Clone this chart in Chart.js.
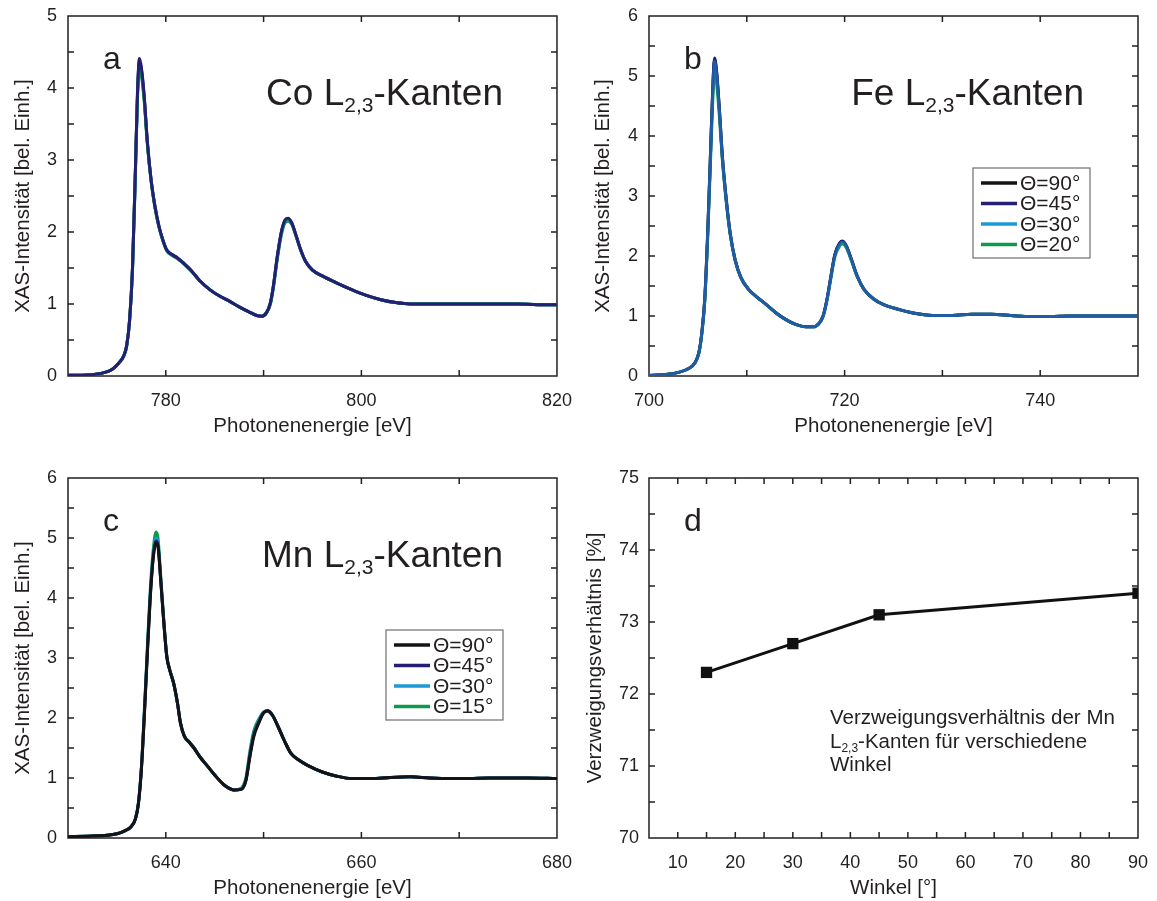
<!DOCTYPE html>
<html>
<head>
<meta charset="utf-8">
<script src="https://cdn.jsdelivr.net/npm/chart.js@4.4.1/dist/chart.umd.min.js"></script>
<style>
  html, body { margin: 0; padding: 0; background: #fff; width: 1157px; height: 901px; overflow: hidden; }
  .panel { position: absolute; width: 578px; height: 450px; }
</style>
</head>
<body>
<div class="panel" style="left:0;top:0"><canvas id="chart-co" width="578" height="450"></canvas></div>
<div class="panel" style="left:581px;top:0"><canvas id="chart-fe" width="578" height="450"></canvas></div>
<div class="panel" style="left:0;top:462px"><canvas id="chart-mn" width="578" height="450"></canvas></div>
<div class="panel" style="left:581px;top:462px"><canvas id="chart-ratio" width="578" height="450"></canvas></div>
<script>
// --- Co L2,3 edges ---
const coEnergy = [770, 772, 773.5, 774.5, 775.2, 775.7, 776, 776.3, 776.6, 776.9, 777.1, 777.3, 777.5, 777.8, 778.1, 778.5, 778.9, 779.3, 779.7, 780.1, 780.6, 781.2, 781.8, 782.5, 783.5, 784.5, 785.5, 786.5, 787.5, 788.5, 789.3, 789.8, 790.3, 790.7, 791, 791.4, 791.8, 792.2, 792.5, 792.9, 793.3, 793.8, 794.3, 795, 796, 797.5, 799, 800.5, 802, 803.5, 805, 807, 810, 813, 816, 818, 820];
const coT90 = [0.01, 0.015, 0.04, 0.09, 0.18, 0.28, 0.42, 0.78, 1.52, 2.9, 3.9, 4.37, 4.26, 3.86, 3.27, 2.72, 2.35, 2.08, 1.89, 1.75, 1.69, 1.64, 1.57, 1.48, 1.32, 1.2, 1.11, 1.04, 0.96, 0.89, 0.84, 0.83, 0.88, 1.02, 1.25, 1.66, 1.99, 2.16, 2.18, 2.12, 1.96, 1.75, 1.59, 1.47, 1.39, 1.29, 1.2, 1.12, 1.06, 1.02, 1.0, 1.0, 1.0, 1.0, 1.0, 0.99, 0.99];
const coT45 = [0.01, 0.015, 0.04, 0.09, 0.18, 0.28, 0.42, 0.78, 1.52, 2.91, 3.92, 4.41, 4.29, 3.88, 3.28, 2.72, 2.35, 2.08, 1.89, 1.75, 1.69, 1.64, 1.57, 1.48, 1.32, 1.2, 1.11, 1.04, 0.96, 0.89, 0.84, 0.83, 0.88, 1.02, 1.25, 1.66, 1.99, 2.17, 2.19, 2.12, 1.96, 1.75, 1.59, 1.47, 1.39, 1.29, 1.2, 1.12, 1.06, 1.02, 1.0, 1.0, 1.0, 1.0, 1.0, 0.99, 0.99];
const coT30 = [0.01, 0.015, 0.04, 0.09, 0.18, 0.28, 0.42, 0.78, 1.5, 2.88, 3.87, 4.33, 4.22, 3.84, 3.26, 2.71, 2.34, 2.07, 1.88, 1.74, 1.68, 1.63, 1.57, 1.48, 1.32, 1.2, 1.11, 1.04, 0.96, 0.89, 0.84, 0.83, 0.88, 1.01, 1.24, 1.64, 1.97, 2.15, 2.17, 2.11, 1.95, 1.75, 1.59, 1.47, 1.39, 1.29, 1.2, 1.12, 1.06, 1.02, 1.0, 1.0, 1.0, 1.0, 1.0, 0.99, 0.99];
const coT20 = [0.01, 0.015, 0.04, 0.09, 0.18, 0.28, 0.42, 0.77, 1.48, 2.85, 3.84, 4.28, 4.18, 3.8, 3.24, 2.7, 2.33, 2.07, 1.88, 1.74, 1.68, 1.63, 1.56, 1.47, 1.32, 1.2, 1.11, 1.04, 0.96, 0.89, 0.84, 0.83, 0.88, 1.0, 1.22, 1.62, 1.95, 2.13, 2.15, 2.1, 1.95, 1.74, 1.59, 1.47, 1.39, 1.29, 1.2, 1.12, 1.06, 1.02, 1.0, 1.0, 1.0, 1.0, 1.0, 0.99, 0.99];

// --- Fe L2,3 edges ---
const feEnergy = [700, 701.5, 703, 704, 704.7, 705.1, 705.4, 705.7, 706, 706.3, 706.5, 706.7, 706.9, 707.2, 707.5, 707.9, 708.3, 708.8, 709.4, 710.2, 711, 712, 713, 714, 715, 716, 716.8, 717.4, 717.8, 718.2, 718.6, 719, 719.5, 719.8, 720.2, 720.7, 721.3, 722, 723, 724, 725.5, 727, 729, 731, 733, 735, 737, 739, 741, 743, 745, 747.5, 750];
const feT90 = [0.01, 0.02, 0.06, 0.12, 0.22, 0.39, 0.72, 1.28, 2.38, 3.76, 4.7, 5.28, 5.08, 4.43, 3.66, 2.94, 2.38, 1.94, 1.64, 1.44, 1.32, 1.19, 1.05, 0.94, 0.86, 0.82, 0.82, 0.88, 1.0, 1.28, 1.66, 2.02, 2.21, 2.24, 2.16, 1.94, 1.66, 1.44, 1.28, 1.19, 1.11, 1.05, 1.01, 1.01, 1.03, 1.03, 1.01, 0.99, 0.99, 1.0, 1.0, 1.0, 1.0];
const feT45 = [0.01, 0.02, 0.06, 0.12, 0.22, 0.39, 0.72, 1.28, 2.38, 3.77, 4.71, 5.3, 5.1, 4.44, 3.66, 2.94, 2.38, 1.94, 1.64, 1.44, 1.32, 1.19, 1.05, 0.94, 0.86, 0.82, 0.82, 0.88, 1.0, 1.28, 1.66, 2.02, 2.22, 2.25, 2.16, 1.94, 1.66, 1.44, 1.28, 1.19, 1.11, 1.05, 1.01, 1.01, 1.03, 1.03, 1.01, 0.99, 0.99, 1.0, 1.0, 1.0, 1.0];
const feT30 = [0.01, 0.02, 0.06, 0.12, 0.22, 0.39, 0.71, 1.26, 2.35, 3.72, 4.65, 5.24, 5.04, 4.4, 3.64, 2.93, 2.37, 1.94, 1.64, 1.44, 1.32, 1.19, 1.05, 0.94, 0.86, 0.82, 0.82, 0.88, 1.0, 1.27, 1.65, 2.0, 2.2, 2.23, 2.15, 1.93, 1.66, 1.44, 1.28, 1.19, 1.11, 1.05, 1.01, 1.01, 1.03, 1.03, 1.01, 0.99, 0.99, 1.0, 1.0, 1.0, 1.0];
const feT20 = [0.01, 0.02, 0.06, 0.12, 0.22, 0.38, 0.7, 1.24, 2.3, 3.62, 4.52, 5.08, 4.9, 4.32, 3.6, 2.9, 2.36, 1.93, 1.64, 1.44, 1.32, 1.19, 1.05, 0.94, 0.86, 0.82, 0.82, 0.88, 0.99, 1.26, 1.63, 1.98, 2.17, 2.2, 2.13, 1.92, 1.65, 1.44, 1.28, 1.19, 1.11, 1.05, 1.01, 1.01, 1.03, 1.03, 1.01, 0.99, 0.99, 1.0, 1.0, 1.0, 1.0];

// --- Mn L2,3 edges ---
const mnEnergy = [630, 632, 634, 635, 635.8, 636.4, 636.9, 637.2, 637.5, 637.8, 638.1, 638.4, 638.7, 639, 639.2, 639.5, 639.8, 640.1, 640.4, 640.8, 641.2, 641.5, 641.9, 642.4, 642.9, 643.5, 644.2, 645, 646, 647, 647.7, 648.2, 648.6, 649, 649.5, 650, 650.4, 650.9, 651.5, 652.1, 652.8, 653.6, 654.5, 656, 657.5, 659, 661, 663, 665, 667, 669, 671, 673, 675, 677, 680];
const mnT90 = [0.02, 0.03, 0.045, 0.07, 0.12, 0.18, 0.32, 0.57, 1.13, 2.02, 3.02, 3.97, 4.64, 4.92, 4.86, 4.25, 3.58, 3.02, 2.8, 2.58, 2.24, 1.91, 1.69, 1.59, 1.49, 1.35, 1.21, 1.05, 0.88, 0.8, 0.81, 0.96, 1.35, 1.69, 1.91, 2.08, 2.12, 2.05, 1.85, 1.63, 1.41, 1.3, 1.21, 1.1, 1.03, 0.99, 0.99, 1.01, 1.02, 1.0, 0.99, 0.99, 1.0, 1.0, 1.0, 0.99];
const mnT45 = [0.02, 0.03, 0.045, 0.07, 0.12, 0.18, 0.32, 0.57, 1.14, 2.04, 3.05, 4.0, 4.66, 4.95, 4.88, 4.26, 3.59, 3.03, 2.8, 2.58, 2.24, 1.92, 1.7, 1.6, 1.5, 1.35, 1.21, 1.05, 0.88, 0.8, 0.81, 0.97, 1.38, 1.72, 1.93, 2.09, 2.12, 2.05, 1.85, 1.63, 1.41, 1.3, 1.21, 1.1, 1.03, 0.99, 0.99, 1.01, 1.02, 1.0, 0.99, 0.99, 1.0, 1.0, 1.0, 0.99];
const mnT30 = [0.02, 0.03, 0.045, 0.07, 0.12, 0.18, 0.32, 0.58, 1.15, 2.06, 3.08, 4.03, 4.7, 5.0, 4.92, 4.28, 3.6, 3.03, 2.8, 2.58, 2.24, 1.92, 1.7, 1.6, 1.5, 1.35, 1.21, 1.05, 0.88, 0.8, 0.82, 0.98, 1.4, 1.74, 1.95, 2.1, 2.12, 2.05, 1.85, 1.63, 1.41, 1.3, 1.21, 1.1, 1.03, 0.99, 0.99, 1.01, 1.02, 1.0, 0.99, 0.99, 1.0, 1.0, 1.0, 0.99];
const mnT15 = [0.02, 0.03, 0.045, 0.07, 0.12, 0.18, 0.33, 0.59, 1.17, 2.1, 3.13, 4.1, 4.78, 5.1, 5.0, 4.32, 3.62, 3.04, 2.81, 2.58, 2.24, 1.92, 1.7, 1.6, 1.5, 1.35, 1.21, 1.05, 0.88, 0.8, 0.83, 1.01, 1.45, 1.79, 1.98, 2.1, 2.11, 2.04, 1.85, 1.63, 1.41, 1.3, 1.21, 1.1, 1.03, 0.99, 0.99, 1.01, 1.02, 1.0, 0.99, 0.99, 1.0, 1.0, 1.0, 0.99];

// --- branching ratio of the Mn edges ---
const ratioAngles = [15, 30, 45, 90];
const ratioValues = [72.3, 72.7, 73.1, 73.4];

const FONT = '"Liberation Sans", Arial, Helvetica, sans-serif';
const INK = '#231f20';
Chart.defaults.font.family = FONT;
Chart.defaults.color = INK;
Chart.defaults.animation = false;

const C90 = '#141414';
const C45 = '#241e74';
const C30 = '#1b9ad7';
const C20 = '#0e9a4c';

function points(xs, ys) {
  return xs.map((x, i) => ({ x: x, y: ys[i] }));
}

function curve(label, xs, ys, color, order, strokeColor) {
  return {
    label: label,
    data: points(xs, ys),
    borderColor: strokeColor || color,
    legendColor: color,
    borderWidth: 3,
    pointRadius: 0,
    cubicInterpolationMode: 'monotone',
    fill: false,
    order: order,
  };
}

// draw a row of text pieces (for subscripts), optionally right aligned
function drawRuns(ctx, x, y, runs, align) {
  let total = 0;
  for (const r of runs) {
    ctx.font = r[1] + 'px ' + FONT;
    r.w = ctx.measureText(r[0]).width;
    total += r.w;
  }
  let cx = align === 'right' ? x - total : x;
  ctx.textAlign = 'left';
  for (const r of runs) {
    ctx.font = r[1] + 'px ' + FONT;
    ctx.fillText(r[0], cx, y + r[2]);
    cx += r.w;
  }
}

// box around the plot plus inward ticks on all four sides
const frameTicks = {
  id: 'frameTicks',
  beforeDatasetsDraw(chart) {
    const { ctx, chartArea: a, scales } = chart;
    const len = 6;
    ctx.save();
    ctx.strokeStyle = INK;
    ctx.lineWidth = 1.5;
    ctx.strokeRect(a.left, a.top, a.right - a.left, a.bottom - a.top);
    ctx.beginPath();
    for (const t of scales.x.ticks) {
      const px = scales.x.getPixelForValue(t.value);
      if (px <= a.left + 1 || px >= a.right - 1) continue;
      ctx.moveTo(px, a.bottom); ctx.lineTo(px, a.bottom - len);
      ctx.moveTo(px, a.top); ctx.lineTo(px, a.top + len);
    }
    for (const t of scales.y.ticks) {
      const py = scales.y.getPixelForValue(t.value);
      if (py <= a.top + 1 || py >= a.bottom - 1) continue;
      ctx.moveTo(a.left, py); ctx.lineTo(a.left + len, py);
      ctx.moveTo(a.right, py); ctx.lineTo(a.right - len, py);
    }
    ctx.stroke();
    ctx.restore();
  }
};

// panel letter, edge title, legend box and notes
const panelText = {
  id: 'panelText',
  afterDraw(chart, args, opts) {
    const { ctx, chartArea: a } = chart;
    ctx.save();
    ctx.fillStyle = INK;
    ctx.textBaseline = 'alphabetic';
    ctx.textAlign = 'left';
    ctx.font = '32px ' + FONT;
    ctx.fillText(opts.letter, a.left + 35, 69);

    if (opts.element) {
      drawRuns(ctx, a.left + 435, 105, [[opts.element + ' L', 37, 0], ['2,3', 21, 7], ['-Kanten', 37, 0]], 'right');
    }

    if (opts.legendX !== undefined) {
      const bx = a.left + opts.legendX, by = 168, bw = 117, bh = 90;
      ctx.strokeStyle = '#6d6e71';
      ctx.lineWidth = 1.2;
      ctx.strokeRect(bx, by, bw, bh);
      ctx.textBaseline = 'middle';
      ctx.font = '21px ' + FONT;
      chart.data.datasets.forEach((ds, i) => {
        const ry = by + 15 + i * 20.5;
        ctx.strokeStyle = ds.legendColor;
        ctx.lineWidth = 3.5;
        ctx.beginPath();
        ctx.moveTo(bx + 8, ry);
        ctx.lineTo(bx + 44, ry);
        ctx.stroke();
        ctx.fillText(ds.label, bx + 47, ry + 1);
      });
      ctx.textBaseline = 'alphabetic';
    }

    if (opts.note) {
      opts.note.forEach((line, i) => drawRuns(ctx, a.left + 181, 262 + i * 23.5, line, 'left'));
    }
    ctx.restore();
  }
};

function yLabel(v) {
  return Number.isInteger(v) ? String(v) : '';
}

function baseOptions(cfg) {
  return {
    responsive: false,
    animation: false,
    events: [],
    layout: { padding: { top: 16, right: 21, bottom: 0, left: 0 } },
    plugins: {
      legend: { display: false },
      tooltip: { enabled: false },
      panelText: cfg.text,
    },
    scales: {
      x: {
        type: 'linear',
        min: cfg.xMin,
        max: cfg.xMax,
        grid: { display: false },
        border: { display: false },
        ticks: {
          stepSize: cfg.xStep,
          autoSkip: false,
          maxRotation: 0,
          padding: 6,
          font: { size: 18 },
          callback: cfg.xLabel,
        },
        title: { display: true, text: cfg.xTitle, font: { size: 20.5 }, padding: { top: 0, bottom: 11 } },
        afterFit: (s) => { s.height = 74; },
      },
      y: {
        type: 'linear',
        min: cfg.yMin,
        max: cfg.yMax,
        grid: { display: false },
        border: { display: false },
        ticks: {
          stepSize: 0.5,
          autoSkip: false,
          padding: cfg.yTickGap,
          font: { size: 18 },
          callback: yLabel,
        },
        title: { display: true, text: cfg.yTitle, font: { size: 20.5 }, padding: { top: cfg.yTitleGap, bottom: 0 } },
        afterFit: (s) => { s.width = 68; },
      },
    },
  };
}

const XAS_TITLE = 'XAS-Intensität [bel. Einh.]';
const ENERGY_TITLE = 'Photonenenergie [eV]';

new Chart(document.getElementById('chart-co'), {
  type: 'line',
  data: {
    datasets: [
      curve('Θ=90°', coEnergy, coT90, C90, 3),
      curve('Θ=45°', coEnergy, coT45, C45, 0),
      curve('Θ=30°', coEnergy, coT30, C30, 2),
      curve('Θ=20°', coEnergy, coT20, C20, 1),
    ],
  },
  options: baseOptions({
    xMin: 770, xMax: 820, xStep: 10,
    xLabel: (v) => (v >= 780 && (v - 780) % 20 === 0 ? String(v) : ''),
    yMin: 0, yMax: 5, yTickGap: 3,
    xTitle: ENERGY_TITLE, yTitle: XAS_TITLE, yTitleGap: 11,
    text: { letter: 'a', element: 'Co' },
  }),
  plugins: [frameTicks, panelText],
});

new Chart(document.getElementById('chart-fe'), {
  type: 'line',
  data: {
    datasets: [
      curve('Θ=90°', feEnergy, feT90, C90, 3),
      curve('Θ=45°', feEnergy, feT45, C45, 1),
      curve('Θ=30°', feEnergy, feT30, C30, 0, 'rgba(27,154,215,0.5)'),
      curve('Θ=20°', feEnergy, feT20, C20, 2),
    ],
  },
  options: baseOptions({
    xMin: 700, xMax: 750, xStep: 10,
    xLabel: (v) => ((v - 700) % 20 === 0 ? String(v) : ''),
    yMin: 0, yMax: 6, yTickGap: 3,
    xTitle: ENERGY_TITLE, yTitle: XAS_TITLE, yTitleGap: 10,
    text: { letter: 'b', element: 'Fe', legendX: 324 },
  }),
  plugins: [frameTicks, panelText],
});

new Chart(document.getElementById('chart-mn'), {
  type: 'line',
  data: {
    datasets: [
      curve('Θ=90°', mnEnergy, mnT90, C90, 0),
      curve('Θ=45°', mnEnergy, mnT45, C45, 1),
      curve('Θ=30°', mnEnergy, mnT30, C30, 2),
      curve('Θ=15°', mnEnergy, mnT15, C20, 3),
    ],
  },
  options: baseOptions({
    xMin: 630, xMax: 680, xStep: 10,
    xLabel: (v) => (v >= 640 && (v - 640) % 20 === 0 ? String(v) : ''),
    yMin: 0, yMax: 6, yTickGap: 3,
    xTitle: ENERGY_TITLE, yTitle: XAS_TITLE, yTitleGap: 11,
    text: { letter: 'c', element: 'Mn', legendX: 318 },
  }),
  plugins: [frameTicks, panelText],
});

new Chart(document.getElementById('chart-ratio'), {
  type: 'line',
  data: {
    datasets: [{
      label: 'Verzweigungsverhältnis',
      data: points(ratioAngles, ratioValues),
      borderColor: '#111',
      backgroundColor: '#111',
      borderWidth: 3,
      pointStyle: 'rect',
      pointRadius: 8,
      pointBorderWidth: 0,
      tension: 0,
      fill: false,
    }],
  },
  options: baseOptions({
    xMin: 5, xMax: 90, xStep: 5,
    xLabel: (v) => (v % 10 === 0 ? String(v) : ''),
    yMin: 70, yMax: 75, yTickGap: 2,
    xTitle: 'Winkel [°]', yTitle: 'Verzweigungsverhältnis [%]', yTitleGap: 2,
    text: {
      letter: 'd',
      note: [
        [['Verzweigungsverhältnis der Mn', 20.5, 0]],
        [['L', 20.5, 0], ['2,3', 12, 4], ['-Kanten für verschiedene', 20.5, 0]],
        [['Winkel', 20.5, 0]],
      ],
    },
  }),
  plugins: [frameTicks, panelText],
});
</script>
</body>
</html>
